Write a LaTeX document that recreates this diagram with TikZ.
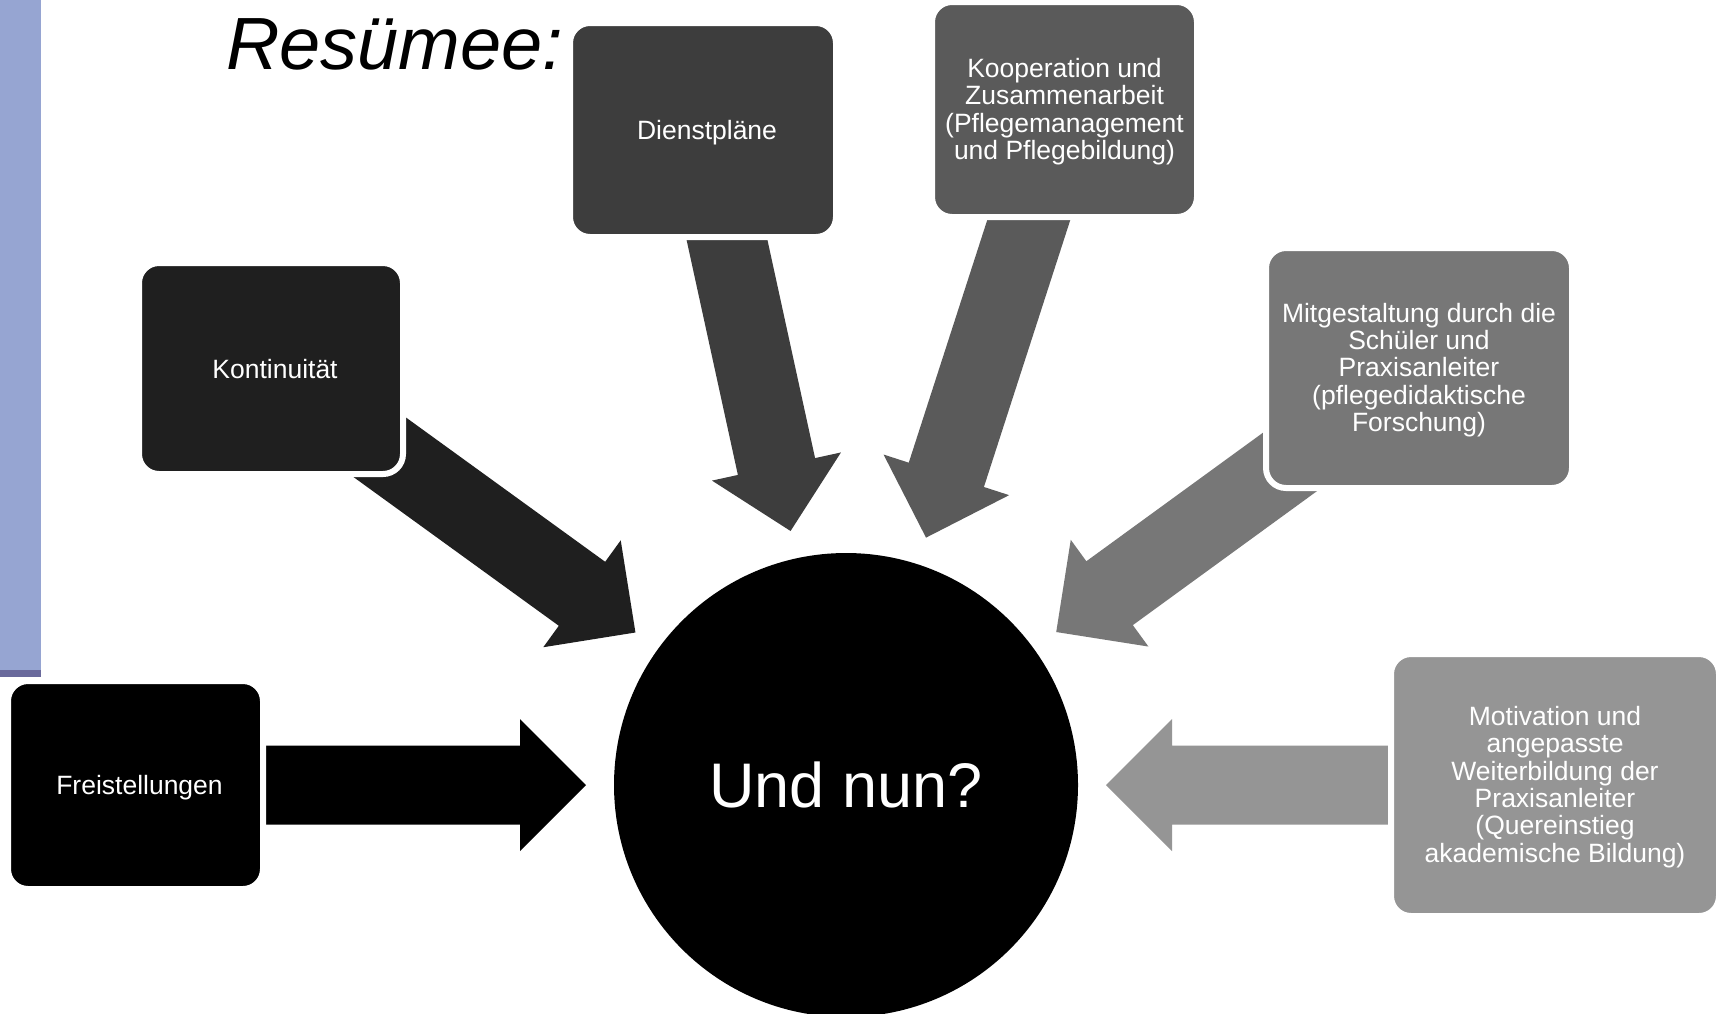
\documentclass[tikz,border=0pt]{standalone}
\usepackage{fontspec}
\setmainfont{Liberation Sans}
\usetikzlibrary{calc}
\definecolor{cA}{RGB}{0,0,0}
\definecolor{cB}{RGB}{31,31,31}
\definecolor{cC}{RGB}{61,61,61}
\definecolor{cD}{RGB}{90,90,90}
\definecolor{cE}{RGB}{119,119,119}
\definecolor{cF}{RGB}{149,149,149}
\definecolor{barblue}{RGB}{150,165,210}
\definecolor{bardark}{RGB}{106,106,156}
\pgfdeclarelayer{back}
\pgfdeclarelayer{arrows}
\pgfsetlayers{back,arrows,main}
% block arrow from node #2 toward node #3, colour #1
\newcommand{\blockarrow}[3]{%
  \coordinate (bt) at (#2.center);
  \coordinate (bp) at ($(#3.center)!260pt!(#2.center)$);
  \coordinate (bh) at ($(bp)!66pt!(bt)$);
  \fill[#1] ($(bt)!39.5pt!90:(bp)$) -- ($(bh)!39.5pt!90:(bp)$) -- ($(bh)!66pt!90:(bp)$)
     -- (bp) -- ($(bh)!66pt!-90:(bp)$) -- ($(bh)!39.5pt!-90:(bp)$) -- ($(bt)!39.5pt!-90:(bp)$) -- cycle;
}
\tikzset{
  box/.style={rectangle, rounded corners=20pt, draw=white, line width=6pt,
    inner sep=0pt, outer sep=0pt},
  boxtext/.style={text=white, align=center, font=\fontsize{26.5}{27.4}\selectfont,
    inner sep=0pt},
}
\begin{document}
\begin{tikzpicture}[x=1pt,y=-1pt]
\useasboundingbox (0,0) rectangle (1718,1013);
\clip (0,0) rectangle (1718,1013);
\begin{pgfonlayer}{back}
\fill[white] (0,0) rectangle (1718,1013);
\fill[barblue] (0,0) rectangle (41,670);
\fill[bardark] (0,670) rectangle (41,677);
\end{pgfonlayer}
% centre
\node[circle, fill=black, minimum size=464pt, inner sep=0pt, outer sep=0pt,
      text=white, font=\fontsize{63}{70}\selectfont] (U) at (846,785) {Und nun?};
% boxes
\node[box, fill=cA, minimum width=255pt, minimum height=208pt] (A) at (135.5,785) {};
\node[box, fill=cB, minimum width=264pt, minimum height=211pt] (B) at (271,368.5) {};
\node[box, fill=cC, minimum width=266pt, minimum height=214pt] (C) at (703,130) {};
\node[box, fill=cD, minimum width=265pt, minimum height=215pt] (D) at (1064.5,109.5) {};
\node[box, fill=cE, minimum width=306pt, minimum height=240pt] (E) at (1419,368) {};
\node[box, fill=cF, minimum width=328pt, minimum height=262pt] (F) at (1555,785) {};
% box texts
\node[boxtext] (tA) at ([xshift=4pt,yshift=-3pt]A.center) {Freistellungen};
\node[boxtext] (tB) at ([xshift=4pt,yshift=-1pt]B.center) {Kontinuität};
\node[boxtext] (tC) at ([xshift=4pt,yshift=-3pt]C.center) {Dienstpläne};
\node[boxtext] (tD) at ([yshift=-2pt]D.center) {Kooperation und\\Zusammenarbeit\\(Pflegemanagement\\und Pflegebildung)};
\node[boxtext] (tE) at ([yshift=-2pt]E.center) {Mitgestaltung durch die\\Schüler und\\Praxisanleiter\\(pflegedidaktische\\Forschung)};
\node[boxtext] (tF) at ([yshift=-2pt]F.center) {Motivation und\\angepasste\\Weiterbildung der\\Praxisanleiter\\(Quereinstieg\\akademische Bildung)};
% arrows (behind boxes)
\begin{pgfonlayer}{arrows}
\blockarrow{cA}{A}{U}
\blockarrow{cB}{B}{U}
\blockarrow{cC}{C}{U}
\blockarrow{cD}{D}{U}
\blockarrow{cE}{E}{U}
\blockarrow{cF}{F}{U}
\end{pgfonlayer}
% title
\node[anchor=base west, inner sep=0pt, font=\fontsize{74}{80}\selectfont\itshape] (title) at (226,69) {Resümee:};
\end{tikzpicture}
\end{document}
